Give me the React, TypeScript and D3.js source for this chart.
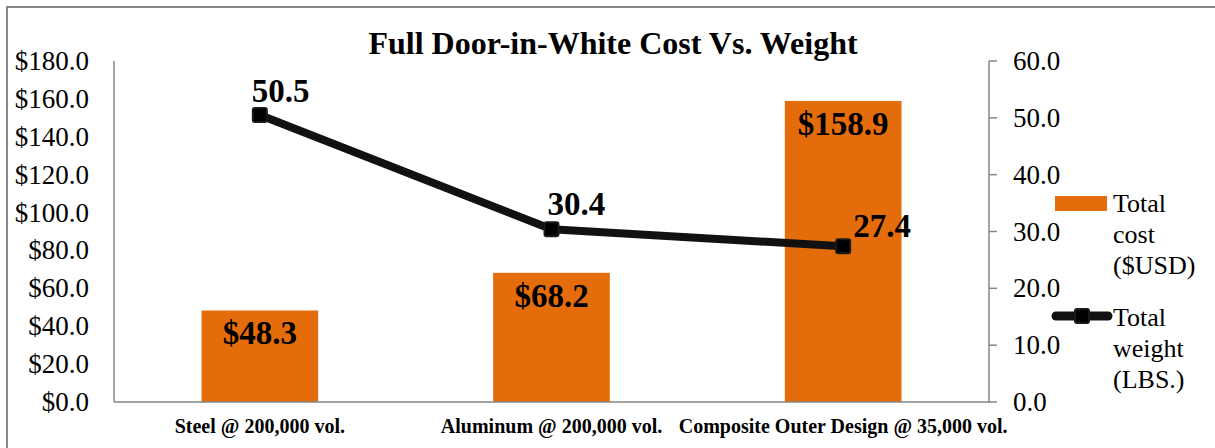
import React from "react";
import * as d3 from "d3";

const title = "Full Door-in-White Cost Vs. Weight";
const categories = [
  "Steel @ 200,000 vol.",
  "Aluminum @ 200,000 vol.",
  "Composite Outer Design @ 35,000 vol.",
];
const costValues = [48.3, 68.2, 158.9];
const weightValues = [50.5, 30.4, 27.4];
const costTicks = [0, 20, 40, 60, 80, 100, 120, 140, 160, 180];
const weightTicks = [0, 10, 20, 30, 40, 50, 60];
const costLegend = ["Total", "cost", "($USD)"];
const weightLegend = ["Total", "weight", "(LBS.)"];
// label offsets relative to each point (placement)
const weightLabelOffsets = [
  [-8, -13],
  [-4, -14],
  [10, -9],
];

const W = 1215;
const H = 448;
const FONT = "'Liberation Serif', 'Times New Roman', serif";
const ORANGE = "#E46C0A";
const AXIS = "#868686";
const INK = "#111111";

export default function App() {
  const left = 114;
  const right = 989;
  const top = 61;
  const bottom = 402;

  const x = d3
    .scaleBand<string>()
    .domain(categories)
    .range([left, right])
    .paddingInner(0.6)
    .paddingOuter(0.3);
  const yL = d3.scaleLinear().domain([0, 180]).range([bottom, top]);
  const yR = d3.scaleLinear().domain([0, 60]).range([bottom, top]);

  const linePts: [number, number][] = categories.map((c, i) => [
    (x(c) as number) + x.bandwidth() / 2,
    yR(weightValues[i]),
  ]);
  const line = d3.line()(linePts) || "";

  const fmtCost = (v: number) => "$" + d3.format(".1f")(v);
  const fmt = d3.format(".1f");

  return (
    <svg
      width={W}
      height={H}
      style={{ position: "absolute", left: 0, top: 0, background: "#fff" }}
      fontFamily={FONT}
    >
      <rect x={0} y={0} width={W} height={H} fill="#fff" />
      <rect
        x={7}
        y={7}
        width={W + 10}
        height={H + 10}
        fill="none"
        stroke={AXIS}
        strokeWidth={2}
      />
      <text
        x={613}
        y={54}
        textAnchor="middle"
        fontSize={32}
        fontWeight="bold"
        fill="#000"
      >
        {title}
      </text>

      {/* bars */}
      {categories.map((c, i) => (
        <rect
          key={c}
          x={x(c)}
          y={yL(costValues[i])}
          width={x.bandwidth()}
          height={yL(0) - yL(costValues[i])}
          fill={ORANGE}
        />
      ))}

      {/* axes */}
      <line x1={left} x2={left} y1={top} y2={bottom} stroke={AXIS} strokeWidth={1.5} />
      <line x1={right} x2={right} y1={top} y2={bottom} stroke={AXIS} strokeWidth={1.5} />
      <line x1={left} x2={right + 1} y1={bottom} y2={bottom} stroke={AXIS} strokeWidth={1.5} />
      {costTicks.map((t) => (
        <text
          key={"c" + t}
          x={89}
          y={yL(t) + 9}
          textAnchor="end"
          fontSize={27}
          fill="#000"
        >
          {fmtCost(t)}
        </text>
      ))}
      {weightTicks.map((t) => (
        <g key={"w" + t}>
          <line
            x1={right}
            x2={right + 8}
            y1={yR(t)}
            y2={yR(t)}
            stroke={AXIS}
            strokeWidth={1.5}
          />
          <text x={1013} y={yR(t) + 9} fontSize={27} fill="#000">
            {fmt(t)}
          </text>
        </g>
      ))}
      {categories.map((c) => (
        <text
          key={"l" + c}
          x={(x(c) as number) + x.bandwidth() / 2}
          y={433}
          textAnchor="middle"
          fontSize={20}
          fontWeight="bold"
          fill="#000"
        >
          {c}
        </text>
      ))}

      {/* bar labels */}
      {categories.map((c, i) => (
        <text
          key={"bl" + c}
          x={(x(c) as number) + x.bandwidth() / 2}
          y={yL(costValues[i]) + 34}
          textAnchor="middle"
          fontSize={33}
          fontWeight="bold"
          fill="#000"
        >
          {fmtCost(costValues[i])}
        </text>
      ))}

      {/* line */}
      <path d={line} fill="none" stroke={INK} strokeWidth={8} strokeLinejoin="round" />
      {linePts.map(([px, py], i) => (
        <rect
          key={"m" + i}
          x={px - 7}
          y={py - 7}
          width={14}
          height={14}
          rx={2}
          fill="#000"
          stroke="#1a1a1a"
          strokeWidth={2}
        />
      ))}
      {linePts.map(([px, py], i) => (
        <text
          key={"wl" + i}
          x={px + weightLabelOffsets[i][0]}
          y={py + weightLabelOffsets[i][1]}
          fontSize={33}
          fontWeight="bold"
          fill="#000"
        >
          {fmt(weightValues[i])}
        </text>
      ))}

      {/* legend */}
      <rect x={1055} y={196} width={52} height={15} fill={ORANGE} />
      {costLegend.map((s, i) => (
        <text key={"cl" + i} x={1113} y={212 + i * 31} fontSize={26} fill="#000">
          {s}
        </text>
      ))}
      <line
        x1={1056}
        x2={1108}
        y1={316}
        y2={316}
        stroke={INK}
        strokeWidth={9}
        strokeLinecap="round"
      />
      <rect x={1075} y={309} width={14} height={14} rx={2} fill="#000" stroke="#1a1a1a" strokeWidth={2} />
      {weightLegend.map((s, i) => (
        <text key={"wlg" + i} x={1113} y={326 + i * 31} fontSize={26} fill="#000">
          {s}
        </text>
      ))}
    </svg>
  );
}
